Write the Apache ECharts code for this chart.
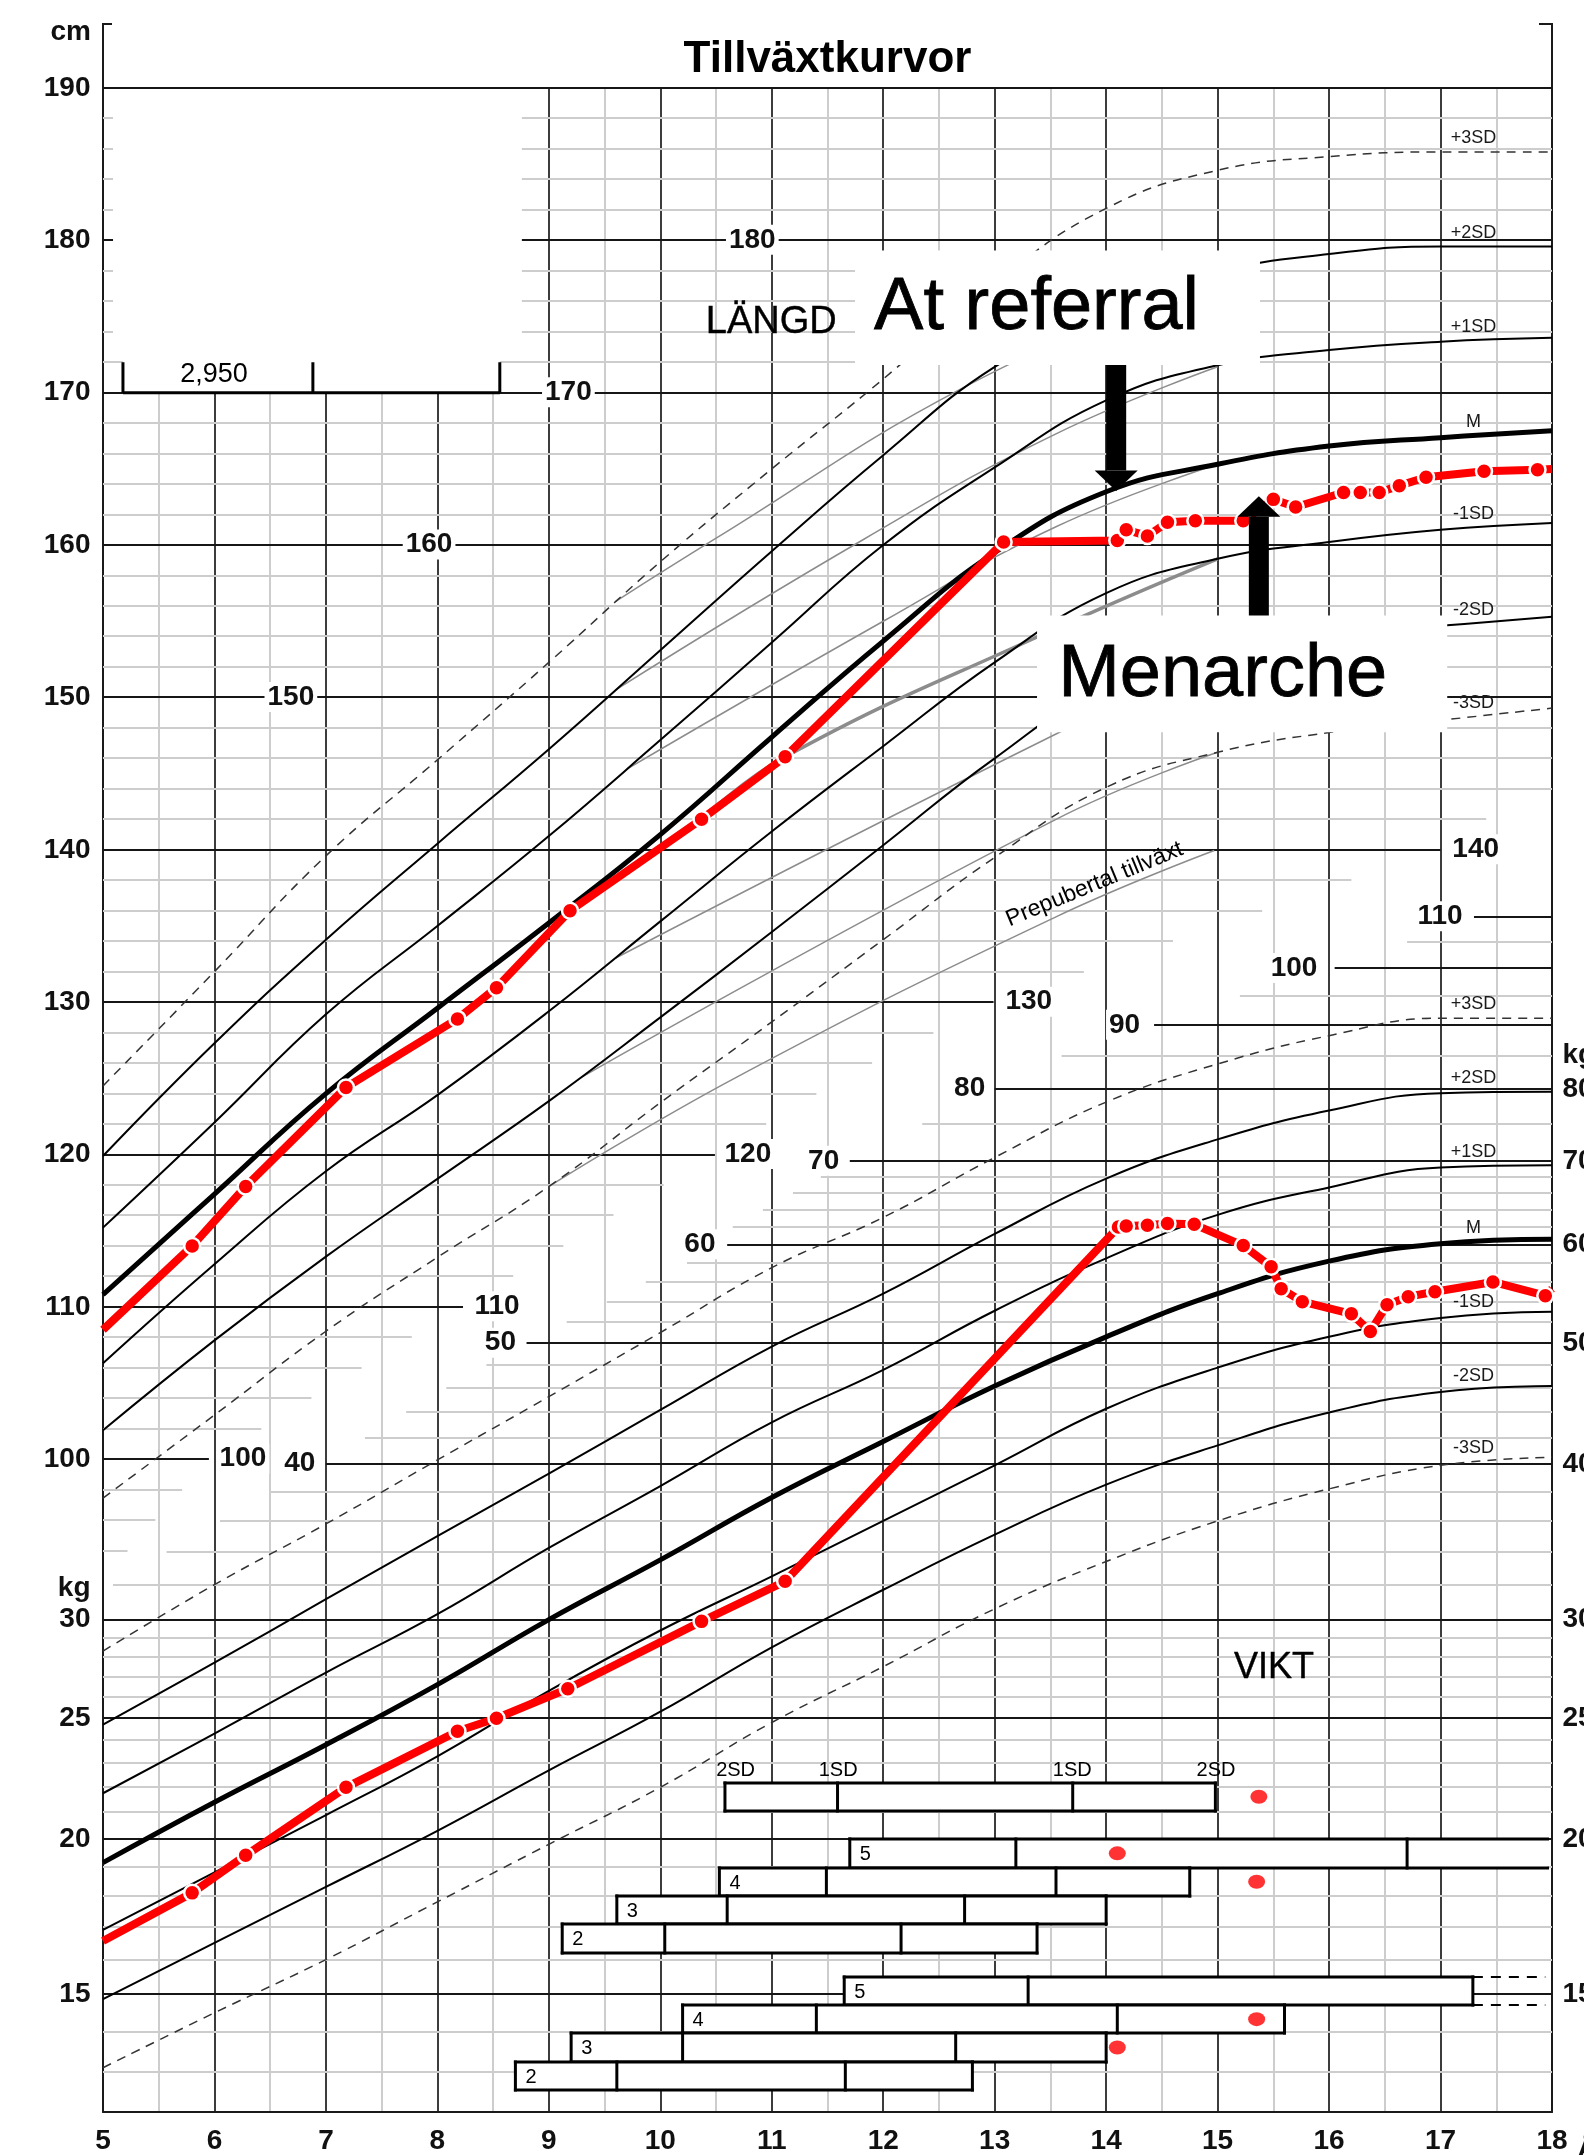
<!DOCTYPE html>
<html>
<head>
<meta charset="utf-8">
<title>Tillväxtkurvor</title>
<script src="https://cdn.jsdelivr.net/npm/echarts/dist/echarts.min.js"></script>
<style>
html,body{margin:0;padding:0;background:#fff;}
#chart{width:1584px;height:2155px;}
</style>
</head>
<body>
<div id="chart"></div>
<script>
// ================= DATA =================
const ages = [5,6,7,8,9,10,11,12,13,14,15,16,17,18];

// Height reference curves (cm)
const hP3 = [124.5,132.0,139.6,145.9,152.3,158.9,165.0,170.9,177.2,182.1,184.6,185.5,185.8,185.8];
const hP2 = [119.9,127.3,134.1,140.4,146.6,153.1,159.6,165.9,171.7,175.3,177.9,179.1,179.6,179.6];
const hP1 = [115.2,122.1,129.2,135.0,140.9,147.2,153.6,160.0,165.1,169.5,171.8,172.8,173.35,173.6];
const hM  = [110.8,117.4,124.0,129.6,135.2,141.0,147.4,153.7,159.5,163.5,165.3,166.5,167.05,167.5];
const hM1 = [106.3,112.8,118.9,123.9,129.4,135.3,141.2,146.8,152.3,156.85,159.1,160.2,161.0,161.45];
const hM2 = [101.9,107.8,113.3,118.4,123.5,129.0,134.6,140.3,146.0,150.8,153.0,154.1,154.7,155.3];
const hM3 = [97.45,102.9,108.4,113.25,117.9,123.4,128.7,134.1,139.5,144.1,146.4,147.7,148.5,149.3];

// Prepubertal growth curves (grey)
const preP3Ages = [9.6,10.49,12.71,15.0],  preP3 = [156.3,160.4,170.3,177.9];
const preP2Ages = [9.6,11.83,13.55,15.0],  preP2 = [150.5,160.4,167.3,171.7];
const preP1Ages = [9.7,12.0,13.55,15.0],   preP1 = [145.3,155.0,161.2,165.3];
const preMAges  = [10.37,11.12,13.39,15.0],preM  = [142.0,146.1,154.0,159.1];
const preM1Ages = [9.6,13.55,15.0],        preM1 = [132.9,147.6,152.5];
const preM2Ages = [9.3,13.55,15.0],        preM2 = [125.1,142.0,146.4];
const preM3Ages = [9.0,10.69,13.55,14.97], preM3 = [117.9,125.1,135.6,139.95];

// Weight reference curves (kg)
const wP3 = [28.3,32.0,35.8,40.3,45.3,51.0,57.5,63.1,70.5,78.1,83.8,88.3,91.2,91.2];
const wP2 = [24.7,27.7,31.15,35.0,39.3,44.2,49.7,54.8,61.2,67.8,72.9,76.9,79.4,79.6];
const wP1 = [21.76,24.3,27.2,30.3,34.25,38.4,43.2,47.6,53.1,58.5,63.4,66.7,69.2,69.5];
const wM  = [19.14,21.4,23.8,26.6,30.0,33.5,37.6,41.7,46.2,50.6,54.8,58.2,60.1,60.6];
const wM1 = [16.9,18.8,20.9,23.3,26.3,29.4,32.5,36.0,39.9,44.3,47.8,50.6,52.4,53.0];
const wM2 = [14.87,16.5,18.3,20.3,22.7,25.3,28.5,31.7,35.1,38.5,41.4,44.0,45.7,46.2];
const wM3 = [13.1,14.5,16.0,17.8,19.8,22.0,24.8,27.5,30.6,33.4,36.0,38.2,39.9,40.5];

// Patient: height
const patHAges = [5.0,5.80,6.28,7.18,8.18,8.53,9.19,10.37,11.12,13.08,14.10,14.18,14.37,14.55,14.80,15.23,15.50,15.70,16.13,16.28,16.45,16.63,16.87,17.39,17.87,18.0];
const patH     = [108.5,114.0,117.9,124.4,128.9,130.95,136.0,142.0,146.1,160.2,160.3,161.0,160.6,161.5,161.6,161.6,163.0,162.5,163.45,163.45,163.45,163.9,164.45,164.85,164.95,165.0];
// Patient: weight
const patWAges = [5.0,5.80,6.28,7.18,8.18,8.53,9.17,10.37,11.12,14.11,14.18,14.37,14.55,14.79,15.23,15.48,15.57,15.76,16.20,16.37,16.52,16.71,16.95,17.47,17.94,18.0];
const patW     = [16.56,18.1,19.4,22.0,24.4,25.0,26.4,29.9,32.2,62.0,62.1,62.2,62.4,62.3,59.9,57.6,55.3,54.0,52.8,51.1,53.7,54.5,55.0,56.0,54.6,55.3];

// Horizontal grid: height lines (cm) and the age where each ends
const hGridLevels = [190,188,186,184,182,180,178,176,174,172,170,168,166,164,162,160,158,156,154,152,150,148,146,144,142,140,138,136,134,132,130,128,126,124,122,120,118,116,114,112,110,108,106,104,102,100,98,96,94];
const hGridEnd    = [18,18,18,18,18,18,18,18,18,18,18,18,18,18,18,18,18,18,18,18,18,18,18,18,17.41,17.0,16.2,15.4,14.6,13.8,12.99,12.45,11.9,11.4,10.95,10.49,10.03,9.58,9.13,8.68,8.23,7.77,7.32,6.87,6.42,5.95,5.71,5.47,5.22];
// Horizontal grid: weight lines (kg) and the age where each starts
const wGridLevels = [13,14,15,16,17,18,19,20,21,22,23,24,25,26,27,28,29,30,32,34,36,38,40,42,44,46,48,50,52,54,56,58,60,62,64,66,68,70,75,80,85,90,95,100,105,110];
const wGridStart  = [5,5,5,5,5,5,5,5,5,5,5,5,5,5,5,5,5,5,5.09,5.57,6.05,6.5,7.0,7.35,7.72,8.08,8.44,8.8,9.16,9.52,9.87,10.24,10.6,10.65,10.92,11.19,11.44,11.7,12.35,13.0,13.6,14.43,15.2,16.05,16.7,17.3];
const wGridMajor  = [15,20,25,30,40,50,60,70,80,90,100,110];

// Tick labels
const xTicks = [5,6,7,8,9,10,11,12,13,14,15,16,17,18];
const hTickLabels = [190,180,170,160,150,140,130,120,110,100];
const wTickLeft = [30,25,20,15];
const wTickRight = [80,70,60,50,40,30,25,20,15];
const hInnerTxt = ['180','170','160','150','140','130','120','110','100'];
const hInnerAge = [10.83,9.18,7.93,6.69,17.32,13.31,10.79,8.54,6.26];
const hInnerVal = [180,170,160,150,140,130,120,110,100];
const wInnerTxt = ['40','50','60','70','80','90','100','110'];
const wInnerAge = [6.77,8.57,10.36,11.47,12.78,14.17,15.69,17.0];
const wInnerVal = [40,50,60,70,80,90,100,110];
const sdNames = ['+3SD','+2SD','+1SD','M','-1SD','-2SD','-3SD'];

// Puberty stage boxes (age boundaries, row)
const boxStart = [10.58,11.70,10.53,9.61,9.12,11.65,10.20,9.20,8.70];
const boxDiv1  = [11.59,13.19,11.49,10.60,10.04,13.30,11.40,10.20,9.61];
const boxDiv2  = [13.70,16.70,13.55,12.73,12.16,null,14.10,12.65,11.66];
const boxEnd   = [14.98,17.96,14.75,14.00,13.38,17.29,15.60,14.00,12.80];
const boxExt   = [null,null,null,null,null,17.94,null,null,null];
const boxOpen  = [false,true,false,false,false,false,false,false,false];
const boxRow   = [5,3,2,1,0,-1.85,-2.85,-3.85,-4.85];
const boxLabel = ['','5','4','3','2','5','4','3','2'];
const sdBoxTxt = ['2SD','1SD','1SD','2SD'];
const sdBoxAge = [10.68,11.60,13.70,14.99];
const pubDotAge = [15.37,14.10,15.35,15.35,14.10];
const pubDotRow = [5,3,2,-2.85,-3.85];

// Annotation areas (age / cm)
const maskX0 = [5.09,5.179,11.747,13.38], maskX1 = [8.758,8.56,15.38,17.06];
const maskY0 = [172.34,170.05,171.82,147.72], maskY1 = [189.93,172.34,179.34,155.38];
const bracketAges = [5.179,6.883,8.56];
const arrowAge  = [14.09,15.37];
const arrowTail = [171.82,155.38];
const arrowBase = [164.9,161.86];
const arrowTip  = [163.55,163.21];

// ================= LAYOUT =================
const W = 1584, H = 2155;
const PX_LEFT = 103, PX_RIGHT = 1552, PX_TOP = 88, PX_BOT = 2120;
const H_PX_PER_CM = 15.296;                       // height scale
const hMax = 190, hMin = hMax - (PX_BOT - PX_TOP) / H_PX_PER_CM;
const W_REF = 15, W_REF_PX = 2002, W_PX_PER_LN = 543; // log weight scale
const wMin = W_REF * Math.exp(-(PX_BOT - W_REF_PX) / W_PX_PER_LN);
const wMax = W_REF * Math.exp((W_REF_PX - PX_TOP) / W_PX_PER_LN);
const ROW0_PX = 1945.7, ROW_PX = 28.45;           // puberty rows
const rMin = -(PX_BOT - ROW0_PX) / ROW_PX, rMax = (ROW0_PX - PX_TOP) / ROW_PX;
const FONT = '"Liberation Sans", Arial, Helvetica, sans-serif';

// ================= HELPERS =================
const pairs = (xs, ys) => xs.map((x, i) => [x, ys[i]]);
function interp(arr, a, log) {
  const i = Math.min(Math.floor(a - 5), arr.length - 2), t = a - 5 - i;
  return log ? Math.exp(Math.log(arr[i]) * (1 - t) + Math.log(arr[i + 1]) * t)
             : arr[i] * (1 - t) + arr[i + 1] * t;
}
function curve(yIdx, vals, kind, xs) {
  const style = kind === 'M' ? {color:'#000', width:5}
              : kind === 'dash' ? {color:'#333', width:1.5, type:[9,7]}
              : kind === 'pre' ? {color:'#8c8c8c', width:1.5}
              : kind === 'preThick' ? {color:'#8c8c8c', width:3.5}
              : {color:'#000', width:2};
  return {type:'line', yAxisIndex:yIdx, data:pairs(xs || ages, vals), showSymbol:false,
    smooth:0.45, lineStyle:style, z:(kind==='pre'||kind==='preThick')?2:3, silent:true, animation:false};
}
function segSeries(yIdx, items) {
  return {type:'custom', yAxisIndex:yIdx, z:1, silent:true, animation:false,
    encode:{x:[0,1], y:2}, data:items,
    renderItem:(p, api) => {
      const a = api.coord([api.value(0), api.value(2)]);
      const b = api.coord([api.value(1), api.value(2)]);
      const dark = api.value(3) === 1;
      const y = Math.round(a[1]);
      return {type:'line', shape:{x1:a[0], y1:y, x2:b[0], y2:y},
        style:{stroke: dark ? '#161616' : '#cdcdcd', lineWidth:2}};
    }};
}
function labelSeries(yIdx, items, base) {
  return {type:'scatter', yAxisIndex:yIdx, z:8, silent:true, animation:false, clip:false,
    symbolSize:1, itemStyle:{color:'rgba(0,0,0,0)'},
    data: items.map(it => ({name:it.t, value:[it.x, it.y], label:it.l || {}})),
    label: Object.assign({show:true, formatter:'{b}', fontFamily:FONT, color:'#111', opacity:1,
      textBorderWidth:0, textShadowBlur:0}, base)};
}
const boldNum = {fontSize:28, fontWeight:'bold'};
const centered = {position:[0,0], align:'center', verticalAlign:'middle'};
const heavyText = {color:'#000', textBorderColor:'#000', textBorderWidth:0.8};

// ================= SERIES =================
const series = [];
series.push(segSeries(0, hGridLevels.map((h, i) => [5, hGridEnd[i], h, h % 10 === 0 ? 1 : 0])));
series.push(segSeries(1, wGridLevels.map((w, i) => [wGridStart[i], 18, w, wGridMajor.includes(w) ? 1 : 0])));

// prepubertal
series.push(curve(0, preP3, 'pre', preP3Ages));
series.push(curve(0, preP2, 'pre', preP2Ages));
series.push(curve(0, preP1, 'pre', preP1Ages));
series.push(curve(0, preM, 'preThick', preMAges));
series.push(curve(0, preM1, 'pre', preM1Ages));
series.push(curve(0, preM2, 'pre', preM2Ages));
series.push(curve(0, preM3, 'pre', preM3Ages));

const hCurves = [hP3,hP2,hP1,hM,hM1,hM2,hM3];
const wCurves = [wP3,wP2,wP1,wM,wM1,wM2,wM3];
const kinds = ['dash','sd','sd','M','sd','sd','dash'];
hCurves.forEach((c, i) => series.push(curve(0, c, kinds[i])));
wCurves.forEach((c, i) => series.push(curve(1, c, kinds[i])));

// puberty boxes
series.push({type:'custom', yAxisIndex:2, z:4, silent:true, animation:false,
  encode:{x:[0,1], y:2},
  data: boxStart.map((s, i) => [s, boxEnd[i], boxRow[i], i]),
  renderItem:(p, api) => {
    const i = api.value(3), r = boxRow[i];
    const tl = api.coord([boxStart[i], r + 0.5]);
    const br = api.coord([boxEnd[i], r - 0.5]);
    const x0 = tl[0], y0 = Math.round(tl[1]), x1 = br[0], y1 = Math.round(br[1]);
    const st = {stroke:'#000', lineWidth:3, lineCap:'square'};
    const ch = [{type:'rect', shape:{x:x0, y:y0, width:x1 - x0, height:y1 - y0}, style:{fill:'#fff'}}];
    ch.push({type:'line', shape:{x1:x0, y1:y0, x2:x1, y2:y0}, style:st});
    ch.push({type:'line', shape:{x1:x0, y1:y1, x2:x1, y2:y1}, style:st});
    ch.push({type:'line', shape:{x1:x0, y1:y0, x2:x0, y2:y1}, style:st});
    if (!boxOpen[i]) ch.push({type:'line', shape:{x1:x1, y1:y0, x2:x1, y2:y1}, style:st});
    [boxDiv1[i], boxDiv2[i]].forEach(d => {
      if (d != null) { const x = api.coord([d, r])[0];
        ch.push({type:'line', shape:{x1:x, y1:y0, x2:x, y2:y1}, style:st}); }
    });
    if (boxExt[i] != null) {
      const xe = api.coord([boxExt[i], r])[0];
      const ds = {stroke:'#000', lineWidth:2, lineDash:[10,8]};
      ch.push({type:'line', shape:{x1:x1, y1:y0, x2:xe, y2:y0}, style:ds});
      ch.push({type:'line', shape:{x1:x1, y1:y1, x2:xe, y2:y1}, style:ds});
    }
    if (boxLabel[i]) ch.push({type:'text', style:{text:boxLabel[i], x:x0 + 10, y:(y0 + y1) / 2 + 1,
      fill:'#000', fontSize:20, fontFamily:FONT, align:'left', verticalAlign:'middle'}});
    return {type:'group', children:ch};
  }});
series.push({type:'scatter', yAxisIndex:2, z:5, silent:true, animation:false,
  data: pairs(pubDotAge, pubDotRow), symbol:'circle', symbolSize:[17,14], itemStyle:{color:'#ff0000'}});

// patient
function patSeries(yIdx, xs, ys) {
  const d = xs.map((x, i) => {
    const it = {value:[x, ys[i]]};
    if (i === 0 || i === xs.length - 1) it.symbol = 'none';
    return it;
  });
  return {type:'line', yAxisIndex:yIdx, data:d, z:5, silent:true, animation:false,
    symbol:'circle', symbolSize:16, showSymbol:true,
    lineStyle:{color:'#ff0000', width:8},
    itemStyle:{color:'#ff0000', borderColor:'#fff', borderWidth:2.5}};
}
series.push(patSeries(0, patHAges, patH));
series.push(patSeries(1, patWAges, patW));

// white masks
series.push({type:'custom', yAxisIndex:0, z:6, silent:true, animation:false,
  encode:{x:[0,1], y:[2,3]},
  data: maskX0.map((x, i) => [x, maskX1[i], maskY0[i], maskY1[i]]),
  renderItem:(p, api) => {
    const a = api.coord([api.value(0), api.value(3)]);
    const b = api.coord([api.value(1), api.value(2)]);
    return {type:'rect', shape:{x:a[0], y:a[1], width:b[0] - a[0], height:b[1] - a[1]}, style:{fill:'#fff'}};
  }});
// bracket
series.push({type:'custom', yAxisIndex:0, z:7, silent:true, animation:false,
  encode:{x:0, y:1}, data:[[bracketAges[0], 170]],
  renderItem:(p, api) => {
    const st = {stroke:'#000', lineWidth:3};
    const base = api.coord([bracketAges[0], 170])[1];
    const top = api.coord([bracketAges[0], 172.0])[1];
    const xs = bracketAges.map(a => api.coord([a, 170])[0]);
    const ch = [{type:'line', shape:{x1:xs[0], y1:base, x2:xs[xs.length - 1], y2:base}, style:st}];
    xs.forEach(x => ch.push({type:'line', shape:{x1:x, y1:top, x2:x, y2:base}, style:st}));
    return {type:'group', children:ch};
  }});
// arrows
series.push({type:'custom', yAxisIndex:0, z:7, silent:true, animation:false,
  encode:{x:0, y:1}, data: arrowAge.map((a, i) => [a, arrowTip[i], i]),
  renderItem:(p, api) => {
    const i = api.value(2);
    const xc = api.coord([arrowAge[i], arrowTip[i]])[0];
    const yT = api.coord([arrowAge[i], arrowTail[i]])[1];
    const yB = api.coord([arrowAge[i], arrowBase[i]])[1];
    const yP = api.coord([arrowAge[i], arrowTip[i]])[1];
    return {type:'group', children:[
      {type:'rect', shape:{x:xc - 10, y:Math.min(yT, yB), width:20, height:Math.abs(yB - yT)}, style:{fill:'#000'}},
      {type:'polygon', shape:{points:[[xc - 21.5, yB], [xc + 21.5, yB], [xc, yP]]}, style:{fill:'#000'}}
    ]};
  }});

// ---- labels ----
series.push(labelSeries(0, hTickLabels.map(v => ({t:String(v), x:5, y:v})),
  Object.assign({position:'left', distance:12}, boldNum)));
series.push(labelSeries(1, wTickLeft.map(v => ({t:String(v), x:5, y:v})).concat([{t:'kg', x:5, y:31.8}]),
  Object.assign({position:'left', distance:12}, boldNum)));
series.push(labelSeries(1, wTickRight.map(v => ({t:String(v), x:18, y:v})).concat([{t:'kg', x:18, y:85.2}]),
  Object.assign({position:'right', distance:10}, boldNum)));
series.push(labelSeries(0, hInnerTxt.map((t, i) => ({t, x:hInnerAge[i], y:hInnerVal[i]})),
  Object.assign({backgroundColor:'#fff', padding:[1,3]}, centered, boldNum)));
series.push(labelSeries(1, wInnerTxt.map((t, i) => ({t, x:wInnerAge[i], y:wInnerVal[i]})),
  Object.assign({backgroundColor:'#fff', padding:[1,3]}, centered, boldNum)));
const SD_AGE = 17.3;
series.push(labelSeries(0, hCurves.map((c, i) => ({t:sdNames[i], x:SD_AGE, y:interp(c, SD_AGE, false)})),
  Object.assign({}, centered, {offset:[0,-13], fontSize:18, color:'#1a1a1a'})));
series.push(labelSeries(1, wCurves.map((c, i) => ({t:sdNames[i], x:SD_AGE, y:interp(c, SD_AGE, true)})),
  Object.assign({}, centered, {offset:[0,-14], fontSize:18, color:'#1a1a1a'})));
series.push(labelSeries(2, sdBoxTxt.map((t, i) => ({t, x:sdBoxAge[i], y:5.92})),
  Object.assign({}, centered, {fontSize:20, color:'#000'})));
series.push(labelSeries(0, [
  {t:'LÄNGD', x:11.0, y:174.6, l:{fontSize:38, textBorderWidth:0.4, textBorderColor:'#000'}},
  {t:'At referral', x:13.38, y:175.47, l:Object.assign({fontSize:74}, heavyText)},
  {t:'Menarche', x:15.05, y:151.42, l:Object.assign({fontSize:74}, heavyText)},
  {t:'2,950', x:6.0, y:171.16, l:{fontSize:27}},
  {t:'Prepubertal tillväxt', x:13.9, y:137.7, l:{fontSize:23, rotate:22.5}}
], Object.assign({}, centered, {color:'#000'})));
series.push(labelSeries(1, [{t:'VIKT', x:15.51, y:27.4}],
  Object.assign({}, centered, {fontSize:36, color:'#000', textBorderWidth:0.4, textBorderColor:'#000'})));

// ================= OPTION =================
const option = {
  animation:false,
  backgroundColor:'#fff',
  textStyle:{fontFamily:FONT},
  grid:{left:PX_LEFT, right:W - PX_RIGHT, top:PX_TOP, bottom:H - PX_BOT, containLabel:false},
  xAxis:{type:'value', min:5, max:18, interval:1,
    axisLine:{show:true, onZero:false, lineStyle:{color:'#1a1a1a', width:2}},
    axisTick:{show:false},
    axisLabel:{show:true, fontSize:28, fontWeight:'bold', color:'#111', margin:15, fontFamily:FONT,
      showMinLabel:true, showMaxLabel:true, formatter: v => xTicks.includes(v) ? String(v) : ''},
    splitLine:{show:true, lineStyle:{color:'#3c3c3c', width:2}},
    minorTick:{show:false, splitNumber:2},
    minorSplitLine:{show:true, lineStyle:{color:'#cdcdcd', width:2}}},
  yAxis:[
    {type:'value', min:hMin, max:hMax, position:'left',
      axisLine:{show:true, onZero:false, lineStyle:{color:'#1a1a1a', width:2}},
      axisTick:{show:false}, axisLabel:{show:false}, splitLine:{show:false}},
    {type:'log', min:wMin, max:wMax, position:'right',
      axisLine:{show:true, onZero:false, lineStyle:{color:'#1a1a1a', width:2}},
      axisTick:{show:false}, axisLabel:{show:false}, splitLine:{show:false}},
    {type:'value', min:rMin, max:rMax, show:false}
  ],
  graphic:[
    {type:'line', shape:{x1:PX_LEFT, y1:23, x2:PX_LEFT, y2:PX_TOP}, style:{stroke:'#1a1a1a', lineWidth:2}},
    {type:'line', shape:{x1:PX_LEFT, y1:24, x2:PX_LEFT + 9, y2:24}, style:{stroke:'#1a1a1a', lineWidth:2}},
    {type:'line', shape:{x1:PX_RIGHT, y1:23, x2:PX_RIGHT, y2:PX_TOP}, style:{stroke:'#1a1a1a', lineWidth:2}},
    {type:'line', shape:{x1:PX_RIGHT - 13, y1:24, x2:PX_RIGHT, y2:24}, style:{stroke:'#1a1a1a', lineWidth:2}},
    {type:'text', x:(PX_LEFT + PX_RIGHT) / 2, y:60, style:{text:'Tillväxtkurvor', fontSize:44, fontWeight:'bold',
      fontFamily:FONT, fill:'#000', align:'center', verticalAlign:'middle'}},
    {type:'text', x:91, y:32, style:{text:'cm', fontSize:28, fontWeight:'bold', fontFamily:FONT, fill:'#111',
      align:'right', verticalAlign:'middle'}},
    {type:'text', x:1577, y:2150, style:{text:'År', fontSize:28, fontWeight:'bold', fontFamily:FONT, fill:'#111',
      align:'left', verticalAlign:'middle'}}
  ],
  series
};

const chart = echarts.init(document.getElementById('chart'), null, {renderer:'canvas', width:W, height:H});
chart.setOption(option);
</script>
</body>
</html>
